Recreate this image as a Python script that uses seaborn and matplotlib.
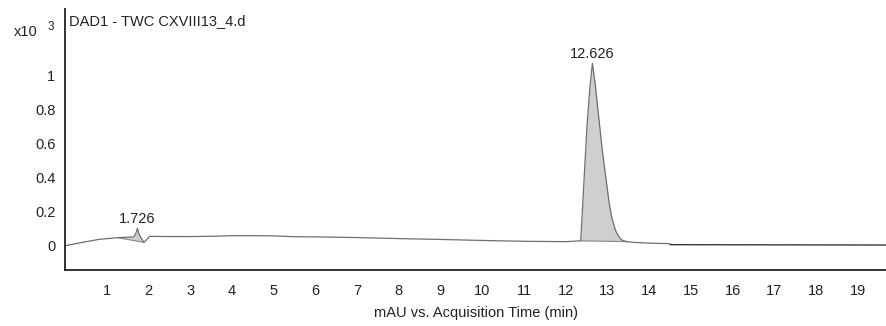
import numpy as np
import pandas as pd
import matplotlib
matplotlib.use("Agg")
import matplotlib.pyplot as plt
import seaborn as sns

# ---- data ----
time = [0.0, 0.4, 0.83, 1.25, 1.5, 1.65, 1.70, 1.735, 1.78, 1.89, 1.95, 2.03, 2.5, 3.0,
        3.6, 4.0, 4.5, 5.0, 5.5, 6.0, 7.0, 8.0, 9.0, 10.0, 11.0, 12.0, 12.36,
        12.43, 12.51, 12.58, 12.64, 12.71, 12.79, 12.88, 12.98, 13.04, 13.1, 13.19,
        13.27, 13.34, 13.46, 13.7, 14.0, 14.5]
signal = [-0.004, 0.015, 0.034, 0.043, 0.046, 0.048, 0.07, 0.098, 0.06, 0.016, 0.03, 0.051, 0.050, 0.050,
          0.052, 0.055, 0.055, 0.054, 0.049, 0.048, 0.044, 0.038, 0.033, 0.027, 0.022, 0.020, 0.025,
          0.34, 0.70, 0.93, 1.07, 0.94, 0.755, 0.55, 0.363, 0.25, 0.167, 0.088,
          0.05, 0.03, 0.02, 0.015, 0.011, 0.008]
tail_time = [14.5, 19.7]
tail_signal = [0.002, 0.0]

peak_windows = [(1.27, 1.89), (12.36, 13.46)]
peak_labels = ["1.726", "12.626"]
peak_rt = [1.735, 12.64]

xticks = list(range(1, 20))
yticks = [0, 0.2, 0.4, 0.6, 0.8, 1]
ytick_labels = ["0", "0.2", "0.4", "0.6", "0.8", "1"]

# ---- style ----
sns.set_style("white")
plt.rcParams["font.family"] = ["Liberation Sans", "DejaVu Sans"]

fig = plt.figure(figsize=(8.87, 3.26), dpi=100)
ax = fig.add_axes([65 / 887, 56 / 326, 1 - 65 / 887, (270 - 9) / 326])

df = pd.DataFrame({"t": time, "y": signal})
df_tail = pd.DataFrame({"t": tail_time, "y": tail_signal})

t_arr = np.array(time)
y_arr = np.array(signal)
for (a, b) in peak_windows:
    m = (t_arr >= a) & (t_arr <= b)
    ya = np.interp(a, t_arr, y_arr)
    yb = np.interp(b, t_arr, y_arr)
    tt = np.concatenate([[a], t_arr[m], [b]])
    yy = np.concatenate([[ya], y_arr[m], [yb]])
    base = ya + (tt - a) * (yb - ya) / (b - a)
    ax.fill_between(tt, base, yy, color="#cfcfcf", lw=0)
    ax.plot([a, b], [ya, yb], color="#8a8a8a", lw=0.8)

sns.lineplot(data=df, x="t", y="y", ax=ax, color="#6e6e6e", lw=0.9, sort=False)
sns.lineplot(data=df_tail, x="t", y="y", ax=ax, color="#222222", lw=0.9, sort=False)

for lab, rt in zip(peak_labels, peak_rt):
    yv = np.interp(rt, t_arr, y_arr)
    ax.annotate(lab, (rt, yv), xytext=(0, 2), textcoords="offset points",
                ha="center", va="bottom", fontsize=10.5, color="#222222")

ax.set_xlim(0, 19.7)
ax.set_ylim(-0.147, 1.39)
ax.set_xticks(xticks)
ax.set_xticklabels([str(x) for x in xticks])
ax.set_yticks(yticks)
ax.set_yticklabels(ytick_labels)
ax.tick_params(axis="both", direction="out", length=4, width=0.8, color="#333333",
               labelsize=10.5, labelcolor="#222222", pad=3)
ax.tick_params(axis="x", pad=6)
for s in ["top", "right"]:
    ax.spines[s].set_visible(False)
for s in ["left", "bottom"]:
    ax.spines[s].set_color("#222222")
    ax.spines[s].set_linewidth(1.3)

ax.set_xlabel("mAU vs. Acquisition Time (min)", fontsize=10.5, color="#222222", labelpad=6)
ax.set_ylabel("")

fig.text(14 / 887, 1 - 32 / 326, "x10", fontsize=10.5, va="center", ha="left", color="#222222")
fig.text(48 / 887, 1 - 27 / 326, "3", fontsize=8.5, va="center", ha="left", color="#222222")
ax.text(0.005, 0.955, "DAD1 - TWC CXVIII13_4.d", transform=ax.transAxes, fontsize=10.5,
        va="center", ha="left", color="#222222")

fig.savefig("out.png", dpi=100)
